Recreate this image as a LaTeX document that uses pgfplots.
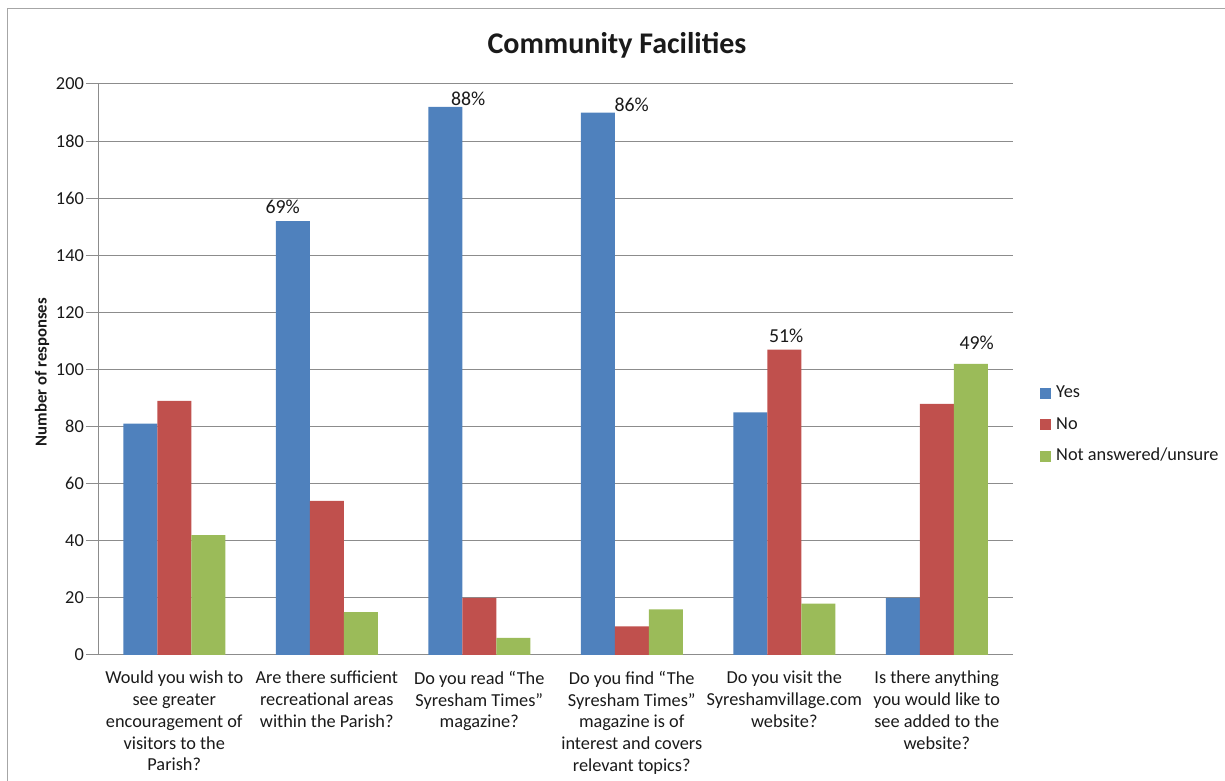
\documentclass[border=0pt]{standalone}
\usepackage{fontspec}
\setmainfont{Carlito}
\usepackage{pgfplots}
\usepackage{pgfplotstable}
\pgfplotsset{compat=1.18}
\definecolor{cyes}{HTML}{4F81BD}
\definecolor{cno}{HTML}{C0504D}
\definecolor{cna}{HTML}{9BBB59}
\definecolor{gridc}{HTML}{8C8C8C}
\definecolor{txtc}{HTML}{1A1A1A}
\pgfplotstableread{
x yes no na
0 81 89 42
1 152 54 15
2 192 20 6
3 190 10 16
4 85 107 18
5 20 88 102
}\datatable
\newcommand\fs{\fontsize{18.3}{21.7}\selectfont}
\newcommand\fp{\fontsize{19.8}{23}\selectfont}
\begin{document}
\begin{tikzpicture}[x=1pt,y=1pt]
\path[use as bounding box] (0,0) rectangle (1225,781);
\draw[color=gray!70, line width=1pt] (7,0) -- (7,772) -- (1225,772);
\node[font=\fontsize{30}{36}\selectfont\bfseries, text=txtc] at (617,736) {Community Facilities};
\node[rotate=90, font=\fontsize{16.7}{20}\selectfont\bfseries, text=txtc] at (42,409) {Number of responses};
\begin{axis}[
  at={(98pt,126pt)}, anchor=south west,
  scale only axis, width=915pt, height=571pt,
  ybar=0pt, bar width=34pt,
  xmin=-0.5, xmax=5.5, ymin=0, ymax=200,
  ytick={0,20,...,200},
  xtick={0,...,5},
  xticklabels={{Would you wish to\\see greater\\encouragement of\\visitors to the\\Parish?},
    {Are there sufficient\\recreational areas\\within the Parish?},
    {Do you read ``The\\Syresham Times''\\magazine?},
    {Do you find ``The\\Syresham Times''\\magazine  is of\\interest and covers\\relevant topics?},
    {Do you visit the\\Syreshamvillage.com\\website?},
    {Is there anything\\you would like to\\see added to the\\website?}},
  xticklabel style={align=center, font=\fs, text=txtc, inner sep=0pt, yshift=-16pt},
  xtick style={draw=none},
  axis x line*=bottom, axis y line*=left,
  axis line style={gridc, line width=1pt},
  ymajorgrids, grid style={gridc, line width=1pt},
  ytick style={gridc, line width=1pt},
  xtick align=inside, ytick align=outside, major tick length=12pt,
  yticklabel style={font=\fs, text=txtc, inner sep=2pt},
  /pgf/number format/assume math mode=true,
  legend style={draw=none, fill=none, at={(1.0295,0.4028)}, anchor=west, font=\fs,
    inner sep=0pt, row sep=14.5pt, text=txtc,
    nodes={inner sep=0pt, text height=13pt, text depth=4pt},
    /tikz/every odd column/.append style={column sep=5pt}},
  legend cell align=left,
  legend image code/.code={\fill[#1] (0pt,-5.5pt) rectangle (11pt,5.5pt);},
  clip=false,
]
\addplot[fill=cyes, draw=none] table[x=x,y=yes]{\datatable};
\addplot[fill=cno, draw=none] table[x=x,y=no]{\datatable};
\addplot[fill=cna, draw=none] table[x=x,y=na]{\datatable};
\legend{Yes,No,Not answered/unsure}
\node[font=\fp, text=txtc, anchor=south, inner sep=0pt, xshift=-44pt, yshift=7pt] at (axis cs:1,152) {69\%};
\node[font=\fp, text=txtc, anchor=south, inner sep=0pt, xshift=-11pt, yshift=1pt] at (axis cs:2,192) {88\%};
\node[font=\fp, text=txtc, anchor=south, inner sep=0pt, xshift=0pt, yshift=1pt] at (axis cs:3,190) {86\%};
\node[font=\fp, text=txtc, anchor=south, inner sep=0pt, xshift=2pt, yshift=7pt] at (axis cs:4,107) {51\%};
\node[font=\fp, text=txtc, anchor=south, inner sep=0pt, xshift=40pt, yshift=14pt] at (axis cs:5,102) {49\%};
\end{axis}
\end{tikzpicture}
\end{document}
